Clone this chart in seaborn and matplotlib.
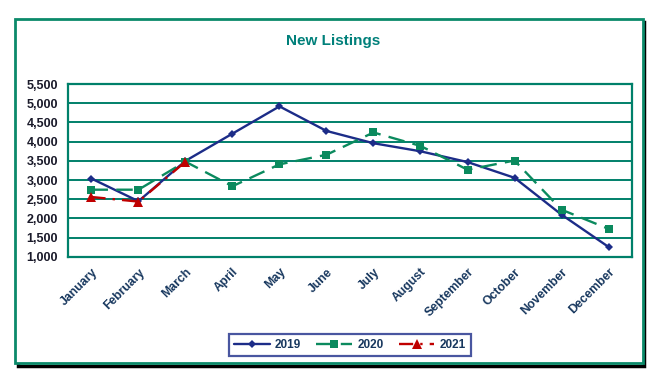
import pandas as pd
import numpy as np
import matplotlib
matplotlib.use('Agg')
import matplotlib.pyplot as plt
import seaborn as sns
from matplotlib.patches import Rectangle
from matplotlib.lines import Line2D

sns.set_style('white')
plt.rcParams['font.family'] = ['Liberation Sans', 'DejaVu Sans']

months = ['January', 'February', 'March', 'April', 'May', 'June', 'July',
          'August', 'September', 'October', 'November', 'December']
listings_2019 = [3040, 2450, 3500, 4210, 4920, 4280, 3960, 3750, 3470, 3060, 2100, 1260]
listings_2020 = [2750, 2750, 3480, 2840, 3410, 3660, 4240, 3890, 3270, 3510, 2230, 1730]
listings_2021 = [2560, 2440, 3480]

years = ['2019', '2020', '2021']
colors = {'2019': '#1C2C88', '2020': '#0B8A5E', '2021': '#C00000'}
markers = {'2019': 'D', '2020': 's', '2021': '^'}
dashes = {'2019': '', '2020': (7, 3.5), '2021': (6, 3, 1, 3)}
msize = {'2019': 4.5, '2020': 6, '2021': 7.5}

rows = []
for yr, vals in zip(years, [listings_2019, listings_2020, listings_2021]):
    for i, v in enumerate(vals):
        rows.append({'month': i, 'year': yr, 'listings': v})
df = pd.DataFrame(rows)

fig = plt.figure(figsize=(6.66, 3.84), dpi=100)
fig.patch.set_facecolor('white')

# outer chart border with shadow (drawn behind the axes)
fig.patches.append(Rectangle((0.027, 0.047), 0.9405, 0.895, transform=fig.transFigure,
                             facecolor='none', edgecolor='black', linewidth=2.5, zorder=-2))
fig.patches.append(Rectangle((0.0225, 0.0547), 0.943, 0.8953, transform=fig.transFigure,
                             facecolor='white', edgecolor='#0B8A6A', linewidth=2, zorder=-1))

ax = fig.add_axes([0.102, 0.331, 0.847, 0.45])
ax.set_zorder(1)
ax.patch.set_alpha(0)

sns.lineplot(data=df, x='month', y='listings', hue='year', style='year',
             palette=colors, markers=markers, dashes=dashes, linewidth=1.7,
             markersize=5, markeredgewidth=0, legend=False, ax=ax)
for line, yr in zip(ax.get_lines(), years):
    line.set_markersize(msize[yr])

ax.set_xlim(-0.5, 11.5)
ax.set_ylim(1000, 5500)
ax.set_yticks(np.arange(1000, 5501, 500))
ax.set_yticklabels([f'{v:,}' for v in range(1000, 5501, 500)],
                   fontsize=9, fontweight='bold', color='#1a1a2a')
ax.set_xticks(range(12))
ax.set_xticklabels(months, rotation=45, ha='right', va='top', rotation_mode='anchor',
                   fontsize=8.8, fontweight='bold', color='#17375E')
ax.set_xticks(np.arange(-0.5, 12, 1), minor=True)
ax.tick_params(axis='x', which='major', length=0, pad=6.5)
ax.tick_params(axis='x', which='minor', length=3, color='#00806A', width=1.2, direction='out')
ax.tick_params(axis='y', length=3, color='#00806A', width=1.2, direction='out', pad=4)
ax.set_xlabel('')
ax.set_ylabel('')
ax.grid(axis='y', color='#00806A', linewidth=1.4)
ax.set_axisbelow(True)
for sp in ax.spines.values():
    sp.set_color('#00806A')
    sp.set_linewidth(1.6)

fig.text(0.5, 0.892, 'New Listings', ha='center', va='center',
         fontsize=11, fontweight='bold', color='#00807A')

# legend
handles = [Line2D([0], [0], color=colors[y], marker=markers[y], linestyle='-',
                  linewidth=1.7, markersize=msize[y] - 0.5, markeredgewidth=0) for y in years]
handles[1].set_dashes((7, 3.5))
handles[2].set_dashes((6, 3, 1, 3))
leg = fig.legend(handles, years, loc='center', bbox_to_anchor=(0.5255, 0.102), ncol=3,
                 frameon=True, fancybox=False, handlelength=3.0,
                 columnspacing=1.3, handletextpad=0.45, borderpad=0.45,
                 prop={'weight': 'bold', 'size': 8.5})
leg.get_frame().set_edgecolor('#1C2C88')
leg.get_frame().set_linewidth(1.6)
for t in leg.get_texts():
    t.set_color('#17375E')

plt.savefig('out.png', dpi=100)
plt.close()
